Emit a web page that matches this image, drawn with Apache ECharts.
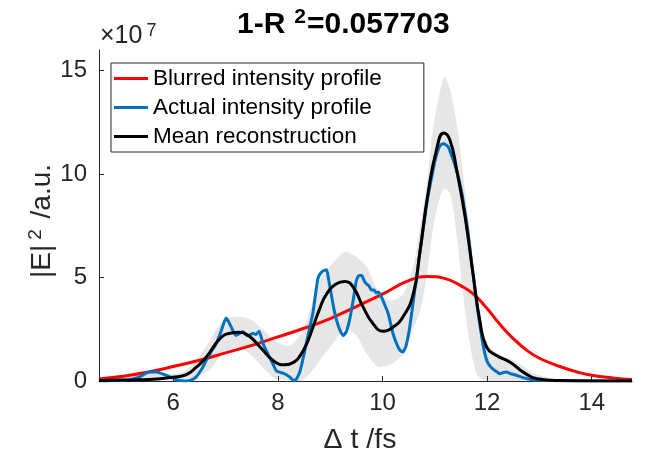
<!DOCTYPE html>
<html><head><meta charset="utf-8">
<script src="https://cdn.jsdelivr.net/npm/echarts@6/dist/echarts.min.js"></script>
<style>html,body{margin:0;padding:0;background:#fff}#c{width:657px;height:455px}</style>
</head><body><div id="c"></div><script>
const FONT = "'Liberation Sans', Arial, Helvetica, sans-serif";
const xTicks = [6, 8, 10, 12, 14];
const yTicks = [0, 5, 10, 15];
const legendNames = ['Blurred intensity profile', 'Actual intensity profile', 'Mean reconstruction'];

const blurT = [4.58,5.0,5.5,6.0,6.5,7.0,7.5,8.0,8.5,9.0,9.5,10.0,10.5,10.87,11.2,11.5,11.73,12.0,12.24,12.5,12.76,13.0,13.39,13.7,14.0,14.4,14.77];
const blurV = [0.1,0.22,0.42,0.7,1.0,1.36,1.72,2.13,2.55,3.02,3.6,4.2,4.85,5.05,4.95,4.6,4.22,3.5,2.75,2.05,1.48,1.1,0.7,0.45,0.28,0.15,0.07];

const actualT = [4.58,4.8,5.04,5.2,5.36,5.45,5.55,5.67,5.77,5.87,6.06,6.25,6.35,6.44,6.55,6.63,6.72,6.82,6.92,7.01,7.06,7.11,7.2,7.27,7.33,7.38,7.43,7.52,7.58,7.64,7.71,7.78,7.84,7.91,7.97,8.04,8.1,8.16,8.23,8.32,8.42,8.5,8.55,8.61,8.67,8.72,8.77,8.85,8.93,8.97,9.02,9.07,9.12,9.18,9.25,9.31,9.37,9.44,9.5,9.55,9.6,9.65,9.69,9.74,9.79,9.84,9.88,9.92,9.95,10.0,10.04,10.11,10.2,10.27,10.33,10.39,10.45,10.52,10.58,10.65,10.72,10.78,10.86,10.94,11.0,11.06,11.11,11.16,11.21,11.26,11.3,11.35,11.4,11.45,11.5,11.54,11.59,11.64,11.68,11.73,11.78,11.83,11.88,11.93,11.98,12.02,12.08,12.15,12.2,12.24,12.3,12.37,12.45,12.56,12.7,12.88,13.1,13.39,14.0,14.77];
const actualV = [0.0,0.01,0.03,0.08,0.2,0.33,0.43,0.43,0.37,0.27,0.06,0.0,0.05,0.2,0.6,1.0,1.4,1.8,2.45,3.04,2.85,2.6,2.2,2.3,2.38,2.25,2.2,2.3,2.25,2.4,1.85,1.45,1.15,0.8,0.5,0.42,0.38,0.3,0.18,0.0,0.45,1.3,1.9,2.6,3.3,4.2,5.0,5.3,5.38,4.9,4.2,3.5,2.95,2.5,2.2,2.4,2.95,3.9,4.85,5.1,5.1,4.85,4.7,4.6,4.4,4.4,4.25,4.3,4.2,3.95,3.7,3.25,2.3,1.8,1.5,1.4,1.7,2.6,3.7,5.0,6.3,7.4,8.8,9.85,10.6,11.15,11.4,11.47,11.42,11.3,11.05,10.7,10.3,9.85,9.3,8.75,7.95,7.1,6.2,5.2,4.2,3.25,2.4,1.65,1.1,0.85,0.65,0.5,0.42,0.35,0.4,0.43,0.35,0.28,0.15,0.06,0.03,0.01,0.0,0.0];

const meanT = [4.58,5.0,5.36,5.7,6.0,6.25,6.44,6.63,6.89,7.08,7.27,7.46,7.65,7.91,8.13,8.3,8.42,8.55,8.67,8.8,8.93,9.12,9.28,9.44,9.63,9.82,10.01,10.2,10.39,10.59,10.71,10.87,11.03,11.17,11.29,11.42,11.58,11.73,11.86,11.99,12.18,12.44,12.69,12.95,13.39,14.0,14.77];
const meanV = [0.03,0.05,0.06,0.1,0.18,0.31,0.67,1.15,2.04,2.31,2.36,2.15,1.67,0.99,0.78,0.9,1.2,1.8,2.6,3.5,4.2,4.7,4.81,4.54,3.57,2.77,2.41,2.6,3.09,4.22,6.15,9.06,11.15,11.99,11.64,10.18,7.92,5.19,2.93,1.64,1.23,0.91,0.43,0.11,0.02,0.0,0.0];

const bandT = [4.58,5.0,5.5,6.0,6.2,6.44,6.7,6.95,7.2,7.46,7.71,7.97,8.2,8.42,8.61,8.8,9.05,9.3,9.5,9.7,9.95,10.17,10.4,10.6,10.72,10.84,10.97,11.1,11.19,11.3,11.42,11.54,11.67,11.8,11.93,12.1,12.3,12.5,12.7,12.9,13.2,13.6,14.0,14.77];
const bandLo = [0,0.02,0.05,0.1,0.1,0.2,0.55,1.35,1.6,1.32,0.67,0.1,0.05,0,0.36,0.99,1.8,2.5,2.2,1.32,0.67,0.83,1.32,2.6,3.4,5.0,7.44,8.9,9.3,9.0,7.0,4.22,1.8,0.35,0.05,0,0,0,0,0,0,0,0,0];
const bandHi = [0.15,0.25,0.45,0.35,0.45,0.99,1.96,2.93,3.09,3.0,2.5,1.9,1.7,2.2,3.4,4.85,5.7,6.23,6.0,5.5,4.22,3.9,4.22,5.67,7.44,9.38,12.28,14.0,14.7,14.0,12.44,10.0,7.2,4.22,2.28,1.5,1.2,1.0,0.7,0.36,0.15,0.05,0.02,0];

const zip = (a, b) => a.map((v, i) => [v, b[i]]);

const chart = echarts.init(document.getElementById('c'));
const axisCol = '#262626';
chart.setOption({
  animation: false,
  backgroundColor: '#fff',
  textStyle: { fontFamily: FONT },
  grid: { left: 99, right: 25, top: 50, bottom: 74, containLabel: false },
  xAxis: {
    type: 'value', min: 4.58, max: 14.77, z: 2,
    axisLine: { show: true, lineStyle: { color: axisCol, width: 1 } },
    axisTick: { show: true, inside: true, length: 5, lineStyle: { color: axisCol }, customValues: xTicks },
    axisLabel: { fontSize: 24, color: axisCol, margin: 10, fontFamily: FONT, customValues: xTicks },
    splitLine: { show: false }
  },
  yAxis: {
    type: 'value', min: 0, max: 16, z: 2,
    axisLine: { show: true, lineStyle: { color: axisCol, width: 1 } },
    axisTick: { show: true, inside: true, length: 5, lineStyle: { color: axisCol }, customValues: yTicks },
    axisLabel: { fontSize: 24, color: axisCol, margin: 12, fontFamily: FONT, customValues: yTicks },
    splitLine: { show: false }
  },
  legend: {
    left: 111, top: 63, orient: 'vertical', selectedMode: false,
    icon: 'rect', itemWidth: 34, itemHeight: 3, itemGap: 6,
    padding: [4, 42, 4, 3],
    borderColor: axisCol, borderWidth: 1, backgroundColor: '#fff',
    textStyle: { fontSize: 22.5, color: '#000', fontFamily: FONT, lineHeight: 22.5 },
    data: legendNames
  },
  graphic: [
    { type: 'text', x: 237, y: 25, style: {
        text: '{n|1-R}{s|2}{n|=0.057703}', align: 'left', verticalAlign: 'middle',
        rich: {
          n: { fontSize: 30, fontWeight: 'bold', fontFamily: FONT, fill: '#000', lineHeight: 36 },
          s: { fontSize: 21, fontWeight: 'bold', fontFamily: FONT, fill: '#000', verticalAlign: 'top', lineHeight: 18, padding: [0, 1, 0, 9] }
        } } },
    { type: 'text', x: 100, y: 36, style: {
        text: '{n|×10}{s|7}', align: 'left', verticalAlign: 'middle',
        rich: {
          n: { fontSize: 25, fontFamily: FONT, fill: axisCol, lineHeight: 28 },
          s: { fontSize: 18, fontFamily: FONT, fill: axisCol, verticalAlign: 'top', lineHeight: 14, padding: [0, 0, 0, 4] }
        } } },
    { type: 'text', x: 360, y: 440, style: {
        text: 'Δ t /fs', align: 'center', verticalAlign: 'middle',
        fontSize: 28.5, fontFamily: FONT, fill: axisCol } },
    { type: 'text', x: 42, y: 221, rotation: Math.PI / 2, style: {
        text: '{n||E|}{s|2}{n| /a.u.}', align: 'center', verticalAlign: 'middle',
        rich: {
          n: { fontSize: 28, fontFamily: FONT, fill: axisCol, lineHeight: 32 },
          s: { fontSize: 19, fontFamily: FONT, fill: axisCol, verticalAlign: 'top', lineHeight: 18, padding: [0, 3, 0, 5] }
        } } }
  ],
  series: [
    { name: 'bandHi', type: 'line', data: zip(bandT, bandHi), symbol: 'none', smooth: 0.3,
      lineStyle: { width: 0, opacity: 0 }, areaStyle: { color: '#e6e6e6', opacity: 1 }, silent: true, z: 1 },
    { name: 'bandLo', type: 'line', data: zip(bandT, bandLo), symbol: 'none', smooth: 0.3,
      lineStyle: { width: 0, opacity: 0 }, areaStyle: { color: '#ffffff', opacity: 1 }, silent: true, z: 1 },
    { name: legendNames[0], type: 'line', data: zip(blurT, blurV), symbol: 'none', smooth: true,
      lineStyle: { color: '#ff0000', width: 3 }, itemStyle: { color: '#ff0000' }, z: 3 },
    { name: legendNames[1], type: 'line', data: zip(actualT, actualV), symbol: 'none', smooth: 0.2,
      lineStyle: { color: '#0072bd', width: 3 }, itemStyle: { color: '#0072bd' }, z: 4 },
    { name: legendNames[2], type: 'line', data: zip(meanT, meanV), symbol: 'none', smooth: true,
      lineStyle: { color: '#000000', width: 3 }, itemStyle: { color: '#000000' }, z: 5 }
  ]
});
</script></body></html>
